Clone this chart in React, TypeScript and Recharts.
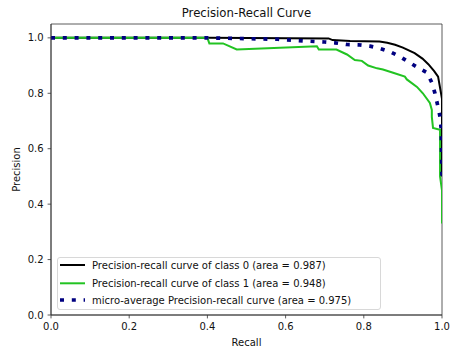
import React from "react";
import {
  LineChart,
  Line,
  XAxis,
  YAxis,
  ReferenceArea,
  Legend,
} from "recharts";

// values
const class0Recall = [0, 0.4, 0.71, 0.72, 0.765, 0.84, 0.86, 0.88, 0.9, 0.915, 0.93, 0.95, 0.965, 0.98, 0.99, 1.0, 1.0];
const class0Precision = [1.0, 1.0, 0.998, 0.992, 0.989, 0.987, 0.982, 0.975, 0.965, 0.955, 0.945, 0.925, 0.905, 0.88, 0.86, 0.78, 0.5];

const class1Recall = [0, 0.4, 0.405, 0.44, 0.475, 0.68, 0.685, 0.73, 0.757, 0.777, 0.795, 0.811, 0.834, 0.849, 0.875, 0.905, 0.91, 0.936, 0.951, 0.969, 0.974, 0.974, 0.977, 0.995, 0.995, 1.0, 1.0];
const class1Precision = [1.0, 1.0, 0.98, 0.98, 0.958, 0.97, 0.958, 0.958, 0.94, 0.92, 0.917, 0.9, 0.89, 0.886, 0.874, 0.86, 0.85, 0.823, 0.8, 0.765, 0.74, 0.715, 0.675, 0.668, 0.5, 0.45, 0.33];

const microRecall = [0, 0.4, 0.58, 0.66, 0.7, 0.726, 0.757, 0.785, 0.816, 0.841, 0.867, 0.893, 0.918, 0.939, 0.962, 0.974, 0.982, 0.99, 0.995, 0.998, 1.0];
const microPrecision = [1.0, 1.0, 0.995, 0.988, 0.985, 0.982, 0.976, 0.975, 0.97, 0.962, 0.95, 0.932, 0.91, 0.892, 0.874, 0.838, 0.8, 0.75, 0.715, 0.67, 0.5];

const xTicks = [0, 0.2, 0.4, 0.6, 0.8, 1.0];
const yTicks = [0, 0.2, 0.4, 0.6, 0.8, 1.0];

const seriesNames = [
  "Precision-recall curve of class 0 (area = 0.987)",
  "Precision-recall curve of class 1 (area = 0.948)",
  "micro-average Precision-recall curve (area = 0.975)",
];

const zip = (r: number[], p: number[]) => r.map((x, i) => ({ r: x, p: p[i] }));

const series = [
  { name: seriesNames[0], data: zip(class0Recall, class0Precision), color: "#000000", width: 2, dash: undefined as string | undefined },
  { name: seriesNames[1], data: zip(class1Recall, class1Precision), color: "#22c322", width: 2, dash: undefined as string | undefined },
  { name: seriesNames[2], data: zip(microRecall, microPrecision), color: "#000080", width: 3.7, dash: "4 7.8" },
];

const FONT = "'DejaVu Sans', sans-serif";
const rowY = [7, 25.3, 42];

const renderLegend = () => (
  <div
    style={{
      width: 324,
      height: 53,
      boxSizing: "border-box",
      border: "1px solid #d8d8d8",
      borderRadius: 3,
      background: "rgba(255,255,255,0.8)",
    }}
  >
    <svg width={322} height={51} style={{ display: "block" }}>
      {series.map((s, i) => (
        <g key={s.name}>
          <line
            x1={2}
            x2={27}
            y1={rowY[i]}
            y2={rowY[i]}
            stroke={s.color}
            strokeWidth={s.width}
            strokeDasharray={s.dash}
          />
          <text x={34} y={rowY[i]} dy="0.35em" fontSize={10} fontFamily={FONT} fill="#111">
            {s.name}
          </text>
        </g>
      ))}
    </svg>
  </div>
);

export default function App() {
  return (
    <div style={{ position: "absolute", left: 0, top: 0, width: 450, height: 352, background: "#fff" }}>
      <LineChart
        width={450}
        height={352}
        margin={{ top: 24, right: 8, bottom: 0, left: 0 }}
        style={{ fontFamily: FONT }}
      >
        <XAxis
          type="number"
          dataKey="r"
          domain={[0, 1]}
          ticks={xTicks}
          allowDataOverflow
          height={37}
          tickSize={3.4}
          tickMargin={4.5}
          tickFormatter={(v: number) => v.toFixed(1)}
          tick={{ fontSize: 10, fill: "#111" }}
          stroke="#333"
          strokeWidth={0.8}
        />
        <YAxis
          type="number"
          dataKey="p"
          domain={[0, 1.05]}
          ticks={yTicks}
          allowDataOverflow
          width={51}
          tickSize={3.4}
          tickMargin={4}
          tickFormatter={(v: number) => v.toFixed(1)}
          tick={{ fontSize: 10, fill: "#111" }}
          stroke="#333"
          strokeWidth={0.8}
        />
        <ReferenceArea x1={0} x2={1} y1={0} y2={1.05} fill="none" stroke="#333" strokeWidth={0.8} />
        {series.map((s) => (
          <Line
            key={s.name}
            data={s.data}
            dataKey="p"
            name={s.name}
            type="linear"
            stroke={s.color}
            strokeWidth={s.width}
            strokeDasharray={s.dash}
            strokeLinecap="butt"
            dot={false}
            activeDot={false}
            isAnimationActive={false}
          />
        ))}
        <Legend
          layout="vertical"
          align="center"
          verticalAlign="middle"
          content={renderLegend}
          wrapperStyle={{ left: 57, top: 257, width: 324, height: 53 }}
        />
      </LineChart>
      <svg
        width={450}
        height={352}
        style={{ position: "absolute", left: 0, top: 0, pointerEvents: "none" }}
      >
        <text x={246.5} y={17.3} textAnchor="middle" fontSize={11.7} fontFamily={FONT} fill="#111">
          Precision-Recall Curve
        </text>
        <text x={246.5} y={345.6} textAnchor="middle" fontSize={10} fontFamily={FONT} fill="#111">
          Recall
        </text>
        <text
          transform="translate(20,169.5) rotate(-90)"
          textAnchor="middle"
          fontSize={10}
          fontFamily={FONT}
          fill="#111"
        >
          Precision
        </text>
      </svg>
    </div>
  );
}
